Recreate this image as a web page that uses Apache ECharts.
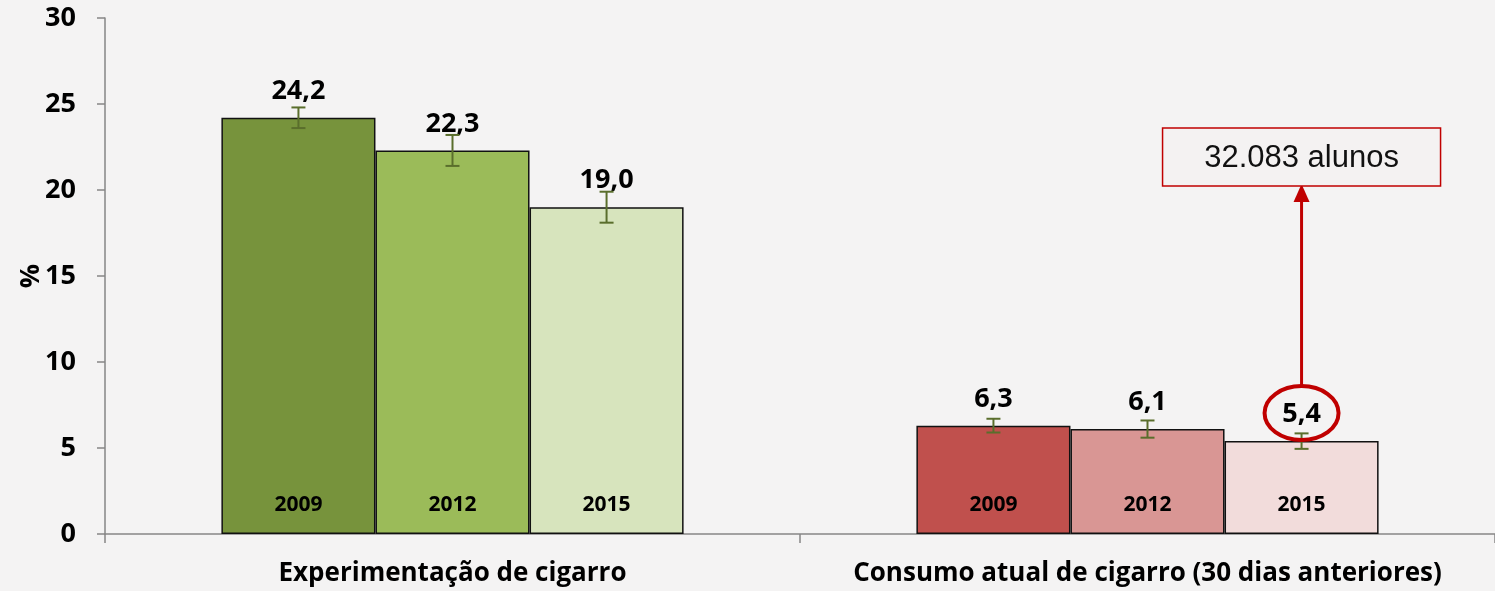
<!DOCTYPE html>
<html>
<head>
<meta charset="utf-8">
<script src="https://cdn.jsdelivr.net/npm/echarts@6/dist/echarts.min.js"></script>
<style>
  html, body { margin: 0; padding: 0; background: #f4f3f3; }
  #chart { width: 1495px; height: 591px; }
</style>
</head>
<body>
<div id="chart"></div>
<script>
// categorias e anos
var categories = ['Experimentação de cigarro', 'Consumo atual de cigarro (30 dias anteriores)'];
var years = ['2009', '2012', '2015'];

// valores (%) por ano, uma posição por categoria
var values2009 = [24.2, 6.3];
var values2012 = [22.3, 6.1];
var values2015 = [19.0, 5.4];

// meia-amplitude do intervalo de confiança
var err2009 = [0.6, 0.4];
var err2012 = [0.9, 0.5];
var err2015 = [0.9, 0.45];

var yTicks = { min: 0, max: 30, interval: 5 };
var annotationText = '32.083 alunos';

var greens = ['#77933C', '#9BBB59', '#D7E4BD'];
var reds = ['#C0504D', '#D99694', '#F2DCDB'];
var font = '"Open Sans", Lato, sans-serif';

var allValues = [values2009, values2012, values2015];
var allErr = [err2009, err2012, err2015];

var chart = echarts.init(document.getElementById('chart'));

function fmt(v) {
	return v.toFixed(1).replace('.', ',');
}

// largura de cada barra = banda * (1 - gap) / 3
var catGap = 0.335;
var labelDist = 13;
var labelSize = 27;

function barSeries(k) {
	return {
		name: years[k],
		type: 'bar',
		barGap: '0%',
		barCategoryGap: (catGap * 100) + '%',
		data: allValues[k].map(function(v, i) {
			return {
				value: v,
				itemStyle: { color: i === 0 ? greens[k] : reds[k] }
			};
		}),
		itemStyle: { borderColor: '#111', borderWidth: 1.5 },
		label: {
			show: true,
			position: 'top',
			distance: labelDist,
			fontFamily: font,
			fontWeight: 'bold',
			fontSize: labelSize,
			color: '#000',
			formatter: function(p) { return fmt(p.value); }
		},
		z: 2
	};
}

// dados das barras de erro: [categoria, baixo, alto, ano]
var errData = [];
var yearData = [];
for (var k = 0; k < 3; k++) {
	for (var i = 0; i < categories.length; i++) {
		errData.push([i, allValues[k][i] - allErr[k][i], allValues[k][i] + allErr[k][i], k]);
		yearData.push([i, k]);
	}
}

function barOffset(api, k) {
	var band = api.size([1, 0])[0];
	var w = band * (1 - catGap) / 3;
	return (k - 1) * w;
}

var option = {
	backgroundColor: '#f4f3f3',
	animation: false,
	grid: { left: 105, right: -3, top: 18, bottom: 57 },
	xAxis: {
		type: 'category',
		data: categories,
		axisLine: { lineStyle: { color: '#868686', width: 1.5 } },
		axisTick: { show: true, length: 9, lineStyle: { color: '#868686', width: 1.5 } },
		axisLabel: {
			interval: 0,
			fontFamily: font,
			fontWeight: 'bold',
			fontSize: 26,
			color: '#000',
			margin: 27
		}
	},
	yAxis: {
		type: 'value',
		min: yTicks.min,
		max: yTicks.max,
		interval: yTicks.interval,
		name: '%',
		nameLocation: 'middle',
		nameGap: 60,
		nameRotate: 90,
		nameMoveOverlap: false,
		nameTextStyle: { fontFamily: font, fontWeight: 'bold', fontSize: 27, color: '#000' },
		splitLine: { show: false },
		axisLine: { show: true, lineStyle: { color: '#868686', width: 1.5 } },
		axisTick: { show: true, length: 8, lineStyle: { color: '#868686', width: 1.5 } },
		axisLabel: {
			fontFamily: font,
			fontWeight: 'bold',
			fontSize: 27,
			color: '#000',
			margin: 29
		}
	},
	series: [
		barSeries(0),
		barSeries(1),
		barSeries(2),
		{
			type: 'custom',
			name: 'erro',
			data: errData,
			z: 5,
			renderItem: function(params, api) {
				var x = api.value(0);
				var lo = api.coord([x, api.value(1)]);
				var hi = api.coord([x, api.value(2)]);
				var cx = lo[0] + barOffset(api, api.value(3));
				var cap = 7;
				var st = { stroke: '#5a6e2c', lineWidth: 2 };
				return {
					type: 'group',
					children: [
						{ type: 'line', shape: { x1: cx, y1: lo[1], x2: cx, y2: hi[1] }, style: st },
						{ type: 'line', shape: { x1: cx - cap, y1: lo[1], x2: cx + cap, y2: lo[1] }, style: st },
						{ type: 'line', shape: { x1: cx - cap, y1: hi[1], x2: cx + cap, y2: hi[1] }, style: st }
					]
				};
			}
		},
		{
			type: 'custom',
			name: 'anos',
			data: yearData,
			z: 5,
			renderItem: function(params, api) {
				var x = api.value(0);
				var k = api.value(1);
				var base = api.coord([x, 0]);
				return {
					type: 'text',
					style: {
						x: base[0] + barOffset(api, k),
						y: base[1] - 29,
						text: years[k],
						fontFamily: font,
						fontWeight: 'bold',
						fontSize: 21,
						fill: '#000',
						align: 'center',
						verticalAlign: 'middle'
					}
				};
			}
		}
	]
};

chart.setOption(option);

// destaque do valor de 2015 (consumo atual) e caixa com o número de alunos
var c1 = chart.convertToPixel({ gridIndex: 0 }, [1, values2015[1]]);
var c0 = chart.convertToPixel({ gridIndex: 0 }, [0, 0]);
var band = c1[0] - c0[0];
var bw = band * (1 - catGap) / 3;
var hx = c1[0] + bw;
var hy = c1[1] - labelDist - 15;
var boxTop = 128, boxH = 58, boxW = 278;

chart.setOption({
	graphic: [
		{
			type: 'ellipse',
			shape: { cx: hx, cy: hy, rx: 37, ry: 27 },
			style: { fill: 'none', stroke: '#C00000', lineWidth: 4 },
			z: 10
		},
		{
			type: 'line',
			shape: { x1: hx, y1: hy - 27, x2: hx, y2: boxTop + boxH + 14 },
			style: { stroke: '#C00000', lineWidth: 3 },
			z: 10
		},
		{
			type: 'polygon',
			shape: { points: [[hx, boxTop + boxH - 2], [hx - 8, boxTop + boxH + 16], [hx + 8, boxTop + boxH + 16]] },
			style: { fill: '#C00000' },
			z: 10
		},
		{
			type: 'rect',
			shape: { x: hx - boxW / 2, y: boxTop, width: boxW, height: boxH },
			style: { fill: '#f4f2f2', stroke: '#C00000', lineWidth: 1.5 },
			z: 10
		},
		{
			type: 'text',
			style: {
				x: hx,
				y: boxTop + boxH / 2 + 1,
				text: annotationText,
				fontFamily: '"Liberation Sans", Arial, sans-serif',
				fontSize: 31,
				fill: '#111',
				align: 'center',
				verticalAlign: 'middle'
			},
			z: 11
		}
	]
});
</script>
</body>
</html>
